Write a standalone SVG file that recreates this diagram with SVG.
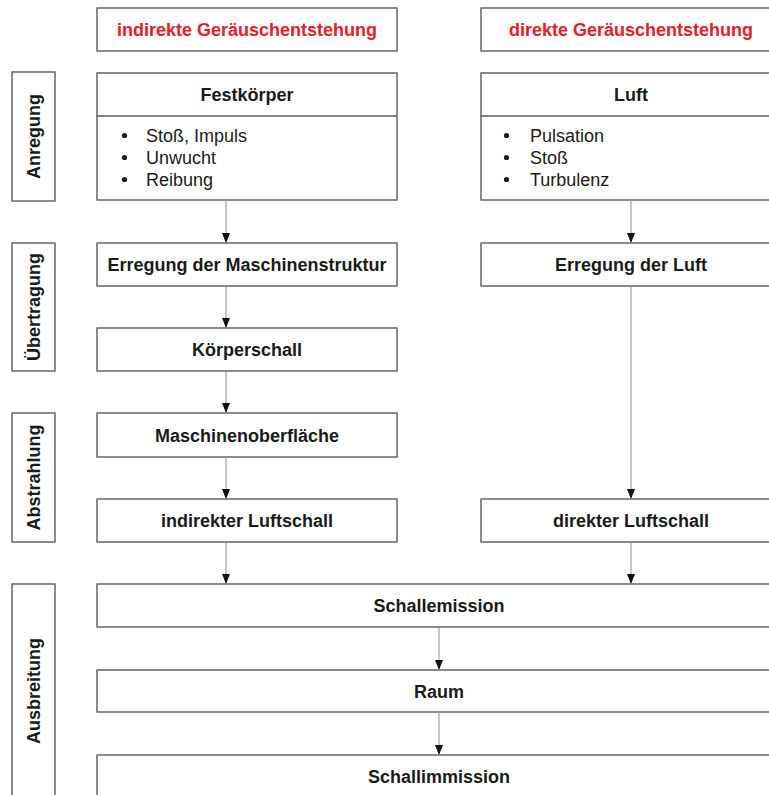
<svg xmlns="http://www.w3.org/2000/svg" width="769" height="795" viewBox="0 0 769 795">
<style>
.box{fill:#fff;stroke:#5a5a5a;stroke-width:1.4}
.t{font-family:"Liberation Sans",Arial,sans-serif;font-size:18px;font-weight:bold;fill:#1a1a1a;text-anchor:middle}
.red{fill:#e3202a}
.li{font-family:"Liberation Sans",Arial,sans-serif;font-size:18px;fill:#1a1a1a}
.side{font-family:"Liberation Sans",Arial,sans-serif;font-size:18px;font-weight:bold;fill:#1a1a1a;text-anchor:middle}
.con{stroke:#8f8f8f;stroke-width:1;fill:none;marker-end:url(#ah)}
.dot{fill:#1a1a1a}
</style>
<defs>
<marker id="ah" viewBox="0 0 10 8" markerWidth="10" markerHeight="8" refX="10" refY="4" orient="auto" markerUnits="userSpaceOnUse">
<path d="M0,0 L10,4 L0,8 z" fill="#111"/>
</marker>
</defs>
<rect width="769" height="795" fill="#fff"/>

<g id="title-indirekt">
<rect class="box" x="97" y="8" width="300" height="43"/>
<text class="t red" x="247" y="35.5">indirekte Geräuschentstehung</text>
</g>
<g id="title-direkt">
<rect class="box" x="481" y="8" width="300" height="43"/>
<text class="t red" x="631" y="35.5">direkte Geräuschentstehung</text>
</g>

<g id="side-anregung">
<rect class="box" x="12" y="72" width="43" height="129"/>
<text class="side" transform="translate(40,136.5) rotate(-90)">Anregung</text>
</g>
<g id="side-uebertragung">
<rect class="box" x="12" y="243" width="43" height="128"/>
<text class="side" transform="translate(40,307) rotate(-90)">Übertragung</text>
</g>
<g id="side-abstrahlung">
<rect class="box" x="12" y="413" width="43" height="129"/>
<text class="side" transform="translate(40,477.5) rotate(-90)">Abstrahlung</text>
</g>
<g id="side-ausbreitung">
<rect class="box" x="12" y="584" width="43" height="220"/>
<text class="side" transform="translate(40,691) rotate(-90)">Ausbreitung</text>
</g>

<g id="festkoerper">
<rect class="box" x="97" y="73" width="300" height="127"/>
<line x1="97" y1="116" x2="397" y2="116" stroke="#5a5a5a" stroke-width="1.4"/>
<text class="t" x="247" y="101">Festkörper</text>
<circle class="dot" cx="124.5" cy="135.5" r="2.6"/>
<circle class="dot" cx="124.5" cy="157.5" r="2.6"/>
<circle class="dot" cx="124.5" cy="179.5" r="2.6"/>
<text class="li" x="146" y="142">Stoß, Impuls</text>
<text class="li" x="146" y="164">Unwucht</text>
<text class="li" x="146" y="186">Reibung</text>
</g>
<g id="luft">
<rect class="box" x="481" y="73" width="300" height="127"/>
<line x1="481" y1="116" x2="781" y2="116" stroke="#5a5a5a" stroke-width="1.4"/>
<text class="t" x="631" y="101">Luft</text>
<circle class="dot" cx="506.5" cy="135.5" r="2.6"/>
<circle class="dot" cx="506.5" cy="157.5" r="2.6"/>
<circle class="dot" cx="506.5" cy="179.5" r="2.6"/>
<text class="li" x="530" y="142">Pulsation</text>
<text class="li" x="530" y="164">Stoß</text>
<text class="li" x="530" y="186">Turbulenz</text>
</g>

<g id="erregung-maschinenstruktur">
<rect class="box" x="97" y="243" width="300" height="43"/>
<text class="t" x="247" y="271">Erregung der Maschinenstruktur</text>
</g>
<g id="erregung-luft">
<rect class="box" x="481" y="243" width="300" height="43"/>
<text class="t" x="631" y="271">Erregung der Luft</text>
</g>
<g id="koerperschall">
<rect class="box" x="97" y="328" width="300" height="43"/>
<text class="t" x="247" y="356">Körperschall</text>
</g>
<g id="maschinenoberflaeche">
<rect class="box" x="97" y="413" width="300" height="44"/>
<text class="t" x="247" y="441.5">Maschinenoberfläche</text>
</g>
<g id="indirekter-luftschall">
<rect class="box" x="97" y="499" width="300" height="43"/>
<text class="t" x="247" y="527">indirekter Luftschall</text>
</g>
<g id="direkter-luftschall">
<rect class="box" x="481" y="499" width="300" height="43"/>
<text class="t" x="631" y="527">direkter Luftschall</text>
</g>
<g id="schallemission">
<rect class="box" x="97" y="584" width="684" height="43"/>
<text class="t" x="439" y="612">Schallemission</text>
</g>
<g id="raum">
<rect class="box" x="97" y="670" width="684" height="42"/>
<text class="t" x="439" y="697.5">Raum</text>
</g>
<g id="schallimmission">
<rect class="box" x="97" y="755" width="684" height="43"/>
<text class="t" x="439" y="783">Schallimmission</text>
</g>

<g id="connectors">
<line class="con" x1="226" y1="200" x2="226" y2="243"/>
<line class="con" x1="226" y1="286" x2="226" y2="328"/>
<line class="con" x1="226" y1="371" x2="226" y2="413"/>
<line class="con" x1="226" y1="457" x2="226" y2="499"/>
<line class="con" x1="226" y1="542" x2="226" y2="584"/>
<line class="con" x1="631" y1="200" x2="631" y2="243"/>
<line class="con" x1="631" y1="286" x2="631" y2="499"/>
<line class="con" x1="631" y1="542" x2="631" y2="584"/>
<line class="con" x1="439" y1="627" x2="439" y2="670"/>
<line class="con" x1="439" y1="712" x2="439" y2="755"/>
</g>
</svg>
